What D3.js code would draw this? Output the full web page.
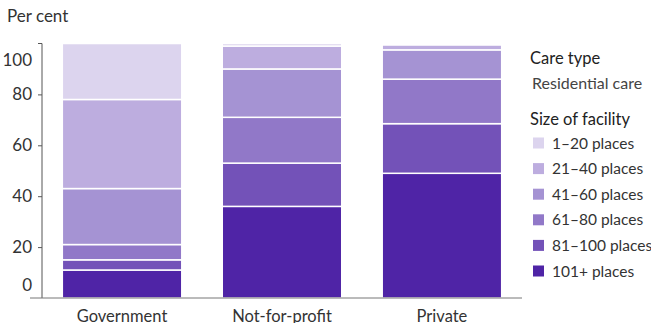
<!DOCTYPE html>
<html><head><meta charset="utf-8">
<script src="https://cdn.jsdelivr.net/npm/d3@7"></script>
<style>
body{margin:0;background:#fff;}
svg{display:block;font-family:Lato, "Noto Sans", sans-serif;}
</style></head>
<body>
<svg id="chart" width="651" height="323"></svg>
<script>
const categories = ["Government", "Not-for-profit", "Private"];
const sizes = ["101+ places", "81–100 places", "61–80 places", "41–60 places", "21–40 places", "1–20 places"];
const legendOrder = ["1–20 places", "21–40 places", "41–60 places", "61–80 places", "81–100 places", "101+ places"];
const colors = ["#4f24a6", "#7352b8", "#9178c8", "#a593d3", "#bdaddf", "#dcd4ee"];
const v101 = [11, 36, 49];
const v81 = [4, 17, 19.5];
const v61 = [6, 18, 17.5];
const v41 = [22, 19, 11.5];
const v21 = [35, 9, 2];
const v1 = [22, 1, 0.5];
const yTicks = [0, 20, 40, 60, 80, 100];

const series = [v101, v81, v61, v41, v21, v1];
const svg = d3.select("#chart");
const x = d3.scaleBand().domain(categories).range([42, 522]).paddingInner(0.253).paddingOuter(0.127);
const y = d3.scaleLinear().domain([0, 100]).range([298, 43.5]);
const color = d3.scaleOrdinal().domain(sizes).range(colors);

const rows = categories.map((c, i) => {
  const r = {cat: c};
  sizes.forEach((s, k) => r[s] = series[k][i]);
  return r;
});
const stacked = d3.stack().keys(sizes)(rows);

svg.append("g").selectAll("g").data(stacked).join("g")
  .attr("fill", d => color(d.key))
  .selectAll("rect").data(d => d).join("rect")
  .attr("x", d => x(d.data.cat))
  .attr("width", x.bandwidth())
  .attr("y", d => y(d[1]))
  .attr("height", d => Math.max(0, y(d[0]) - y(d[1])))
  .attr("stroke", "#fff").attr("stroke-width", 1.5);

// y axis
const yAxis = svg.append("g").attr("transform", "translate(42,0)")
  .call(d3.axisLeft(y).tickValues(yTicks).tickSize(4).tickPadding(6));
yAxis.select(".domain").attr("stroke", "#555").attr("d", "M-4,43.5H0V298");
yAxis.selectAll(".tick line").attr("stroke", "#555");
yAxis.selectAll(".tick text").attr("fill", "#333").style("font-size", "17px")
  .style("font-family", "Lato, 'Noto Sans', sans-serif")
  .attr("dy", d => d === 0 ? "-0.45em" : d === 100 ? "1.3em" : "0.32em");
yAxis.selectAll(".tick").filter(d => d === 100 || d === 0).select("line").remove();

// baseline
svg.append("line").attr("x1", 30).attr("x2", 522).attr("y1", 298).attr("y2", 298)
  .attr("stroke", "#777").attr("stroke-width", 1);

// x labels
svg.append("g").selectAll("text").data(categories).join("text")
  .attr("x", d => x(d) + x.bandwidth() / 2).attr("y", 321.5)
  .attr("text-anchor", "middle").attr("fill", "#333").style("font-size", "16.5px")
  .text(d => d);

svg.append("text").attr("x", 7).attr("y", 22).attr("fill", "#333")
  .style("font-size", "17px").text("Per cent");

// legend
const lg = svg.append("g");
lg.append("text").attr("x", 530).attr("y", 64).attr("fill", "#222").style("font-size", "16.5px").text("Care type");
lg.append("text").attr("x", 532).attr("y", 89).attr("fill", "#444").style("font-size", "16px").text("Residential care");
lg.append("text").attr("x", 530).attr("y", 125).attr("fill", "#222").style("font-size", "16.5px").text("Size of facility");
const items = lg.selectAll("g.item").data(legendOrder).join("g")
  .attr("transform", (d, i) => `translate(533,${143 + i * 25.6})`);
items.append("rect").attr("x", 0).attr("y", -5.5).attr("width", 11).attr("height", 11)
  .attr("fill", d => color(d));
items.append("text").attr("x", 19).attr("y", 5.5).attr("fill", "#333").style("font-size", "15.5px").text(d => d);
</script>
</body></html>
